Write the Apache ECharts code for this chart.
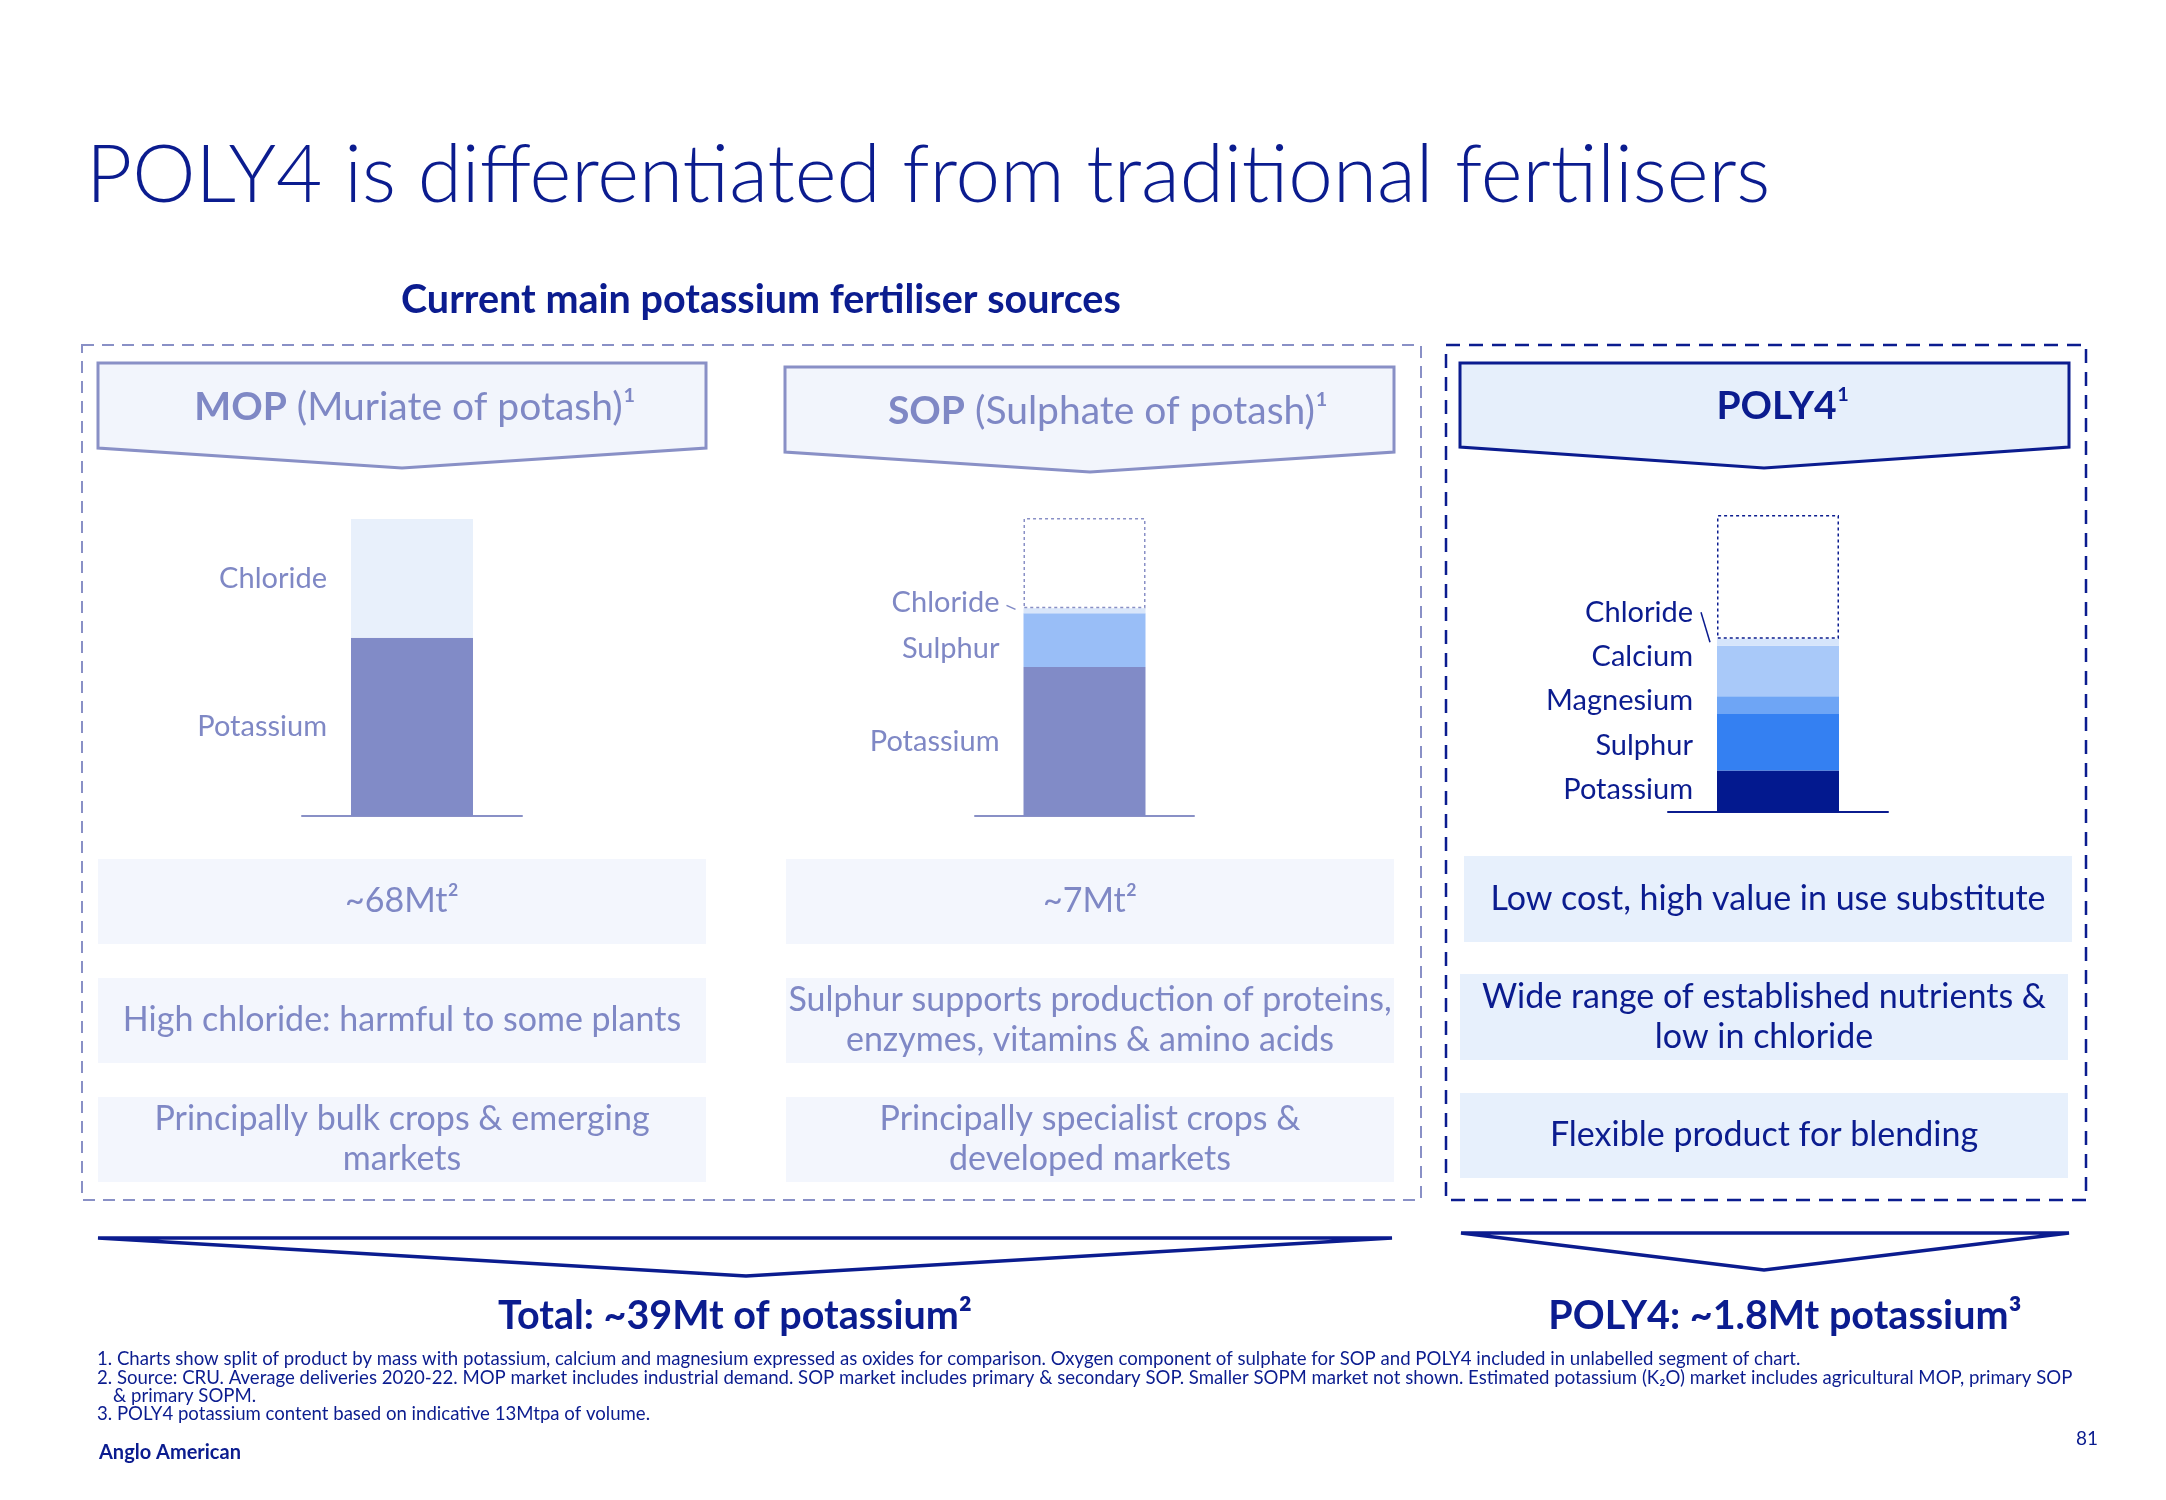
<!DOCTYPE html>
<html><head><meta charset="utf-8">
<script src="https://cdn.jsdelivr.net/npm/echarts@6/dist/echarts.min.js"></script>
<style>html,body{margin:0;padding:0;background:#fff}#c{width:2166px;height:1500px}</style>
</head><body><div id="c"></div>
<script>
// ---------------- DATA ----------------
const productNames = ['MOP', 'SOP', 'POLY4'];
const mopSegments = ['Potassium', 'Chloride'];
const mopValues = [60, 40];
const sopSegments = ['Potassium', 'Sulphur', 'Chloride', ''];
const sopValues = [50, 18, 1.7, 30.3];
const poly4Segments = ['Potassium', 'Sulphur', 'Magnesium', 'Calcium', 'Chloride', ''];
const poly4Values = [14, 19, 6, 17, 2.3, 41.7];

const titleText = 'POLY4 is differentiated from traditional fertilisers';
const subtitleText = 'Current main potassium fertiliser sources';
const headerBold = ['MOP', 'SOP', 'POLY4'];
const headerRest = [' (Muriate of potash)¹', ' (Sulphate of potash)¹', '¹'];
const marketSizes = ['~68Mt²', '~7Mt²'];
const traitsMOP = ['High chloride: harmful to some plants', 'Principally bulk crops & emerging\nmarkets'];
const traitsSOP = ['Sulphur supports production of proteins,\nenzymes, vitamins & amino acids', 'Principally specialist crops &\ndeveloped markets'];
const traitsPOLY4 = ['Low cost, high value in use substitute', 'Wide range of established nutrients &\nlow in chloride', 'Flexible product for blending'];
const totals = ['Total: ~39Mt of potassium²', 'POLY4: ~1.8Mt potassium³'];
const footnotes = [
  '1. Charts show split of product by mass with potassium, calcium and magnesium expressed as oxides for comparison. Oxygen component of sulphate for SOP and POLY4 included in unlabelled segment of chart.',
  '2. Source: CRU. Average deliveries 2020-22. MOP market includes industrial demand. SOP market includes primary & secondary SOP. Smaller SOPM market not shown. Estimated potassium (K₂O) market includes agricultural MOP, primary SOP',
  '& primary SOPM.',
  '3. POLY4 potassium content based on indicative 13Mtpa of volume.'
];
const brand = 'Anglo American';
const pageNo = '81';

// ---------------- STYLE ----------------
const NAVY = '#0B1C8F';
const PURPLE = '#7F88C5';
const PURPLE_LINE = '#8990C6';
const F = 'Lato, "Open Sans", sans-serif';
const segColors = {
  MOP: ['#818BC7', '#E8F0FB'],
  SOP: ['#818BC7', '#99BEF7', '#D9E6FA', '#FFFFFF'],
  POLY4: ['#03198F', '#3480F2', '#6EA5F5', '#A9C9F9', '#D6E5FB', '#FFFFFF']
};
const labelNudge = {
  'SOP-Sulphur': 8, 'SOP-Chloride': -8,
  'POLY4-Calcium': -14, 'POLY4-Magnesium': -4, 'POLY4-Sulphur': 3, 'POLY4-Chloride': -30, 'POLY4-Potassium': -2
};
const grids = [
  {left: 302, top: 519, width: 220, height: 297},
  {left: 975, top: 518, width: 219, height: 298},
  {left: 1668, top: 515, width: 220, height: 297}
];
const axisColors = [PURPLE_LINE, PURPLE_LINE, NAVY];
const labelColors = [PURPLE, PURPLE, NAVY];

const chart = echarts.init(document.getElementById('c'), null, {renderer: 'canvas'});

const allSegs = [mopSegments, sopSegments, poly4Segments];
const allVals = [mopValues, sopValues, poly4Values];
const series = [];
allSegs.forEach((segs, gi) => {
  const prod = productNames[gi];
  segs.forEach((name, k) => {
    const blank = name === '';
    series.push({
      type: 'bar', name: name || 'Other', xAxisIndex: gi, yAxisIndex: gi, stack: 'st' + gi,
      barWidth: 122, data: [allVals[gi][k]],
      itemStyle: blank ? {color: '#FFFFFF', borderColor: gi === 2 ? NAVY : PURPLE_LINE, borderWidth: 1.5, borderType: [3, 3]}
                       : {color: segColors[prod][k]},
      label: {
        show: !blank, position: 'left', distance: 24, formatter: name,
        color: labelColors[gi], fontSize: 29, fontFamily: F,
        offset: [0, labelNudge[prod + '-' + name] || 0]
      },
      emphasis: {disabled: true}
    });
  });
});

chart.setOption({
  animation: false,
  grid: grids,
  xAxis: grids.map((g, i) => ({gridIndex: i, type: 'category', data: [productNames[i]],
    axisLine: {show: true, lineStyle: {color: axisColors[i], width: 2}}, axisTick: {show: false}, axisLabel: {show: false}})),
  yAxis: grids.map((g, i) => ({gridIndex: i, type: 'value', min: 0, max: 100, show: false, splitLine: {show: false}})),
  series: series
});

// ---------------- GRAPHICS ----------------
const G = [];
function txt(x, y, text, o) {
  G.push({type: 'text', x: x, y: y, z: 10, style: Object.assign({text: text, fontFamily: F, fill: NAVY, align: 'left', verticalAlign: 'middle'}, o || {})});
}
function rect(x, y, w, h, style) { G.push({type: 'rect', z: 1, shape: {x: x, y: y, width: w, height: h}, style: style}); }
function poly(points, style) { G.push({type: 'polygon', z: 2, shape: {points: points}, style: style}); }

txt(86, 176, titleText, {fontSize: 80, fontWeight: 300});
txt(401, 300, subtitleText, {fontSize: 39.5, fontWeight: 'bold'});

// dashed frames
rect(82, 345, 1339, 855, {fill: 'rgba(0,0,0,0)', stroke: PURPLE_LINE, lineWidth: 2, lineDash: [12, 8]});
rect(1446, 345, 640, 855, {fill: 'rgba(0,0,0,0)', stroke: NAVY, lineWidth: 2.5, lineDash: [14, 9]});

// headers
const headerGeom = [
  {l: 98, r: 706, t: 363, s: 448, px: 402, py: 468, tx: 415, ty: 407},
  {l: 785, r: 1394, t: 367, s: 452, px: 1090, py: 472, tx: 1108, ty: 411},
  {l: 1460, r: 2069, t: 363, s: 447, px: 1764, py: 468, tx: 1783, ty: 406}
];
headerGeom.forEach((h, i) => {
  const navy = i === 2;
  poly([[h.l, h.t], [h.r, h.t], [h.r, h.s], [h.px, h.py], [h.l, h.s]],
    {fill: navy ? '#E6EFFB' : '#F2F5FC', stroke: navy ? NAVY : PURPLE_LINE, lineWidth: 3});
  txt(h.tx, h.ty, '{b|' + headerBold[i] + '}{r|' + headerRest[i] + '}', {
    align: 'center', fill: navy ? NAVY : PURPLE, fontSize: 39,
    rich: {b: {fontSize: 39, fontWeight: 'bold', fontFamily: F, fill: navy ? NAVY : PURPLE},
           r: {fontSize: 39, fontWeight: 400, fontFamily: F, fill: navy ? NAVY : PURPLE}}
  });
});

// text boxes
const colX = [98, 786];
const rowY = [859, 978, 1097];
const colTexts = [[marketSizes[0]].concat(traitsMOP), [marketSizes[1]].concat(traitsSOP)];
colX.forEach((x, ci) => {
  rowY.forEach((y, ri) => {
    rect(x, y, 608, 85, {fill: '#F3F6FD'});
    txt(x + 304, y + 42.5, colTexts[ci][ri], {align: 'center', fontSize: 34, lineHeight: 40, fill: PURPLE, fontWeight: 400});
  });
});
const pRows = [{x: 1464, y: 856, h: 86}, {x: 1460, y: 974, h: 86}, {x: 1460, y: 1093, h: 85}];
pRows.forEach((r, ri) => {
  rect(r.x, r.y, 608, r.h, {fill: '#E7F0FC'});
  txt(r.x + 304, r.y + r.h / 2, traitsPOLY4[ri], {align: 'center', fontSize: 34, lineHeight: 40, fill: NAVY, fontWeight: 400});
});

// bottom arrows
poly([[98, 1238], [1392, 1238], [746, 1276]], {fill: '#FFFFFF', stroke: NAVY, lineWidth: 3.5});
poly([[1461, 1233], [2069, 1233], [1764, 1270]], {fill: '#FFFFFF', stroke: NAVY, lineWidth: 3.5});
txt(735, 1316, totals[0], {align: 'center', fontSize: 39.5, fontWeight: 'bold'});
txt(1785, 1316, totals[1], {align: 'center', fontSize: 39.5, fontWeight: 'bold'});

// footnotes
txt(97, 1359, footnotes[0], {fontSize: 18.6});
txt(97, 1378, footnotes[1], {fontSize: 18.6});
txt(113, 1396, footnotes[2], {fontSize: 18.6});
txt(97, 1414, footnotes[3], {fontSize: 18.6});
txt(99, 1453, brand, {fontSize: 20, fontWeight: 'bold'});
txt(2098, 1439, pageNo, {fontSize: 19, align: 'right'});

// leader lines for thin chloride segments, positioned via the chart's own scales
function segMid(vals, k) { let c = 0; for (let j = 0; j < k; j++) c += vals[j]; return c + vals[k] / 2; }
const pS = chart.convertToPixel({xAxisIndex: 1, yAxisIndex: 1}, [0, segMid(sopValues, sopSegments.indexOf('Chloride'))]);
const pP = chart.convertToPixel({xAxisIndex: 2, yAxisIndex: 2}, [0, segMid(poly4Values, poly4Segments.indexOf('Chloride'))]);
G.push({type: 'line', z: 5, shape: {x1: pS[0] - 61 - 17, y1: pS[1] - 5.5, x2: pS[0] - 61 - 8, y2: pS[1] - 1.5}, style: {stroke: PURPLE, lineWidth: 1.5}});
G.push({type: 'line', z: 5, shape: {x1: pP[0] - 61 - 16, y1: pP[1] - 30, x2: pP[0] - 61 - 7, y2: pP[1]}, style: {stroke: NAVY, lineWidth: 1.5}});

chart.setOption({graphic: G});
</script></body></html>
